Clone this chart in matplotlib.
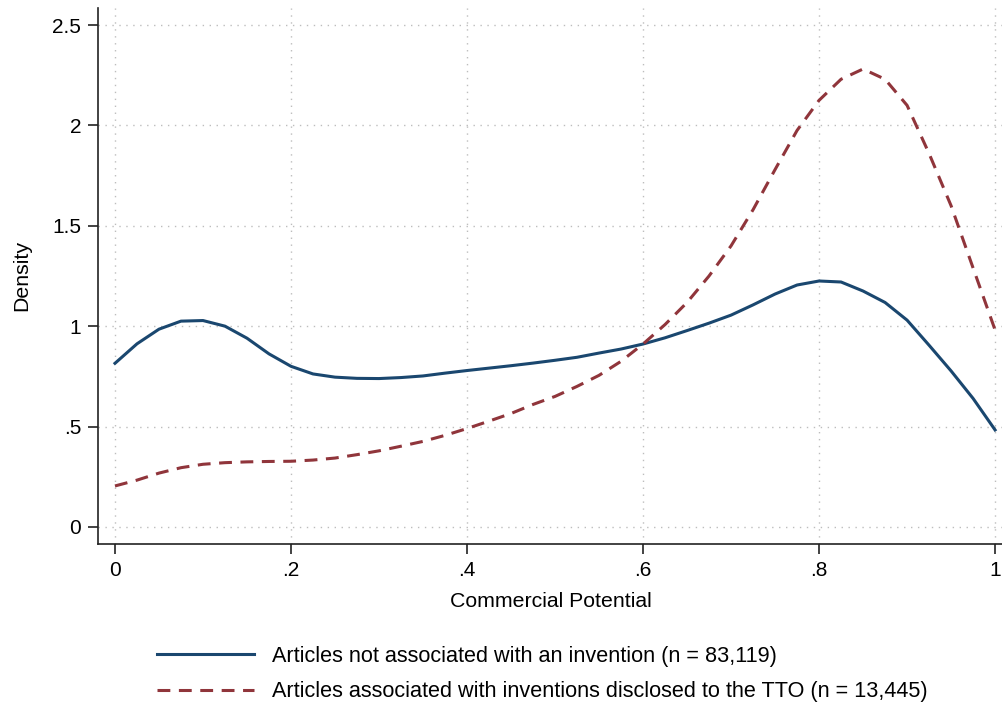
import matplotlib
matplotlib.use("Agg")
import matplotlib.pyplot as plt
import numpy as np

plt.rcParams['font.family'] = ['Liberation Sans', 'DejaVu Sans']

# Kernel density values
x_vals = [0, 0.025, 0.05, 0.075, 0.1, 0.125, 0.15, 0.175, 0.2, 0.225, 0.25, 0.275,
          0.3, 0.325, 0.35, 0.375, 0.4, 0.425, 0.45, 0.475, 0.5, 0.525, 0.55, 0.575,
          0.6, 0.625, 0.65, 0.675, 0.7, 0.725, 0.75, 0.775, 0.8, 0.825, 0.85, 0.875,
          0.9, 0.925, 0.95, 0.975, 1.0]

dens_no_invention = [0.815, 0.912, 0.985, 1.025, 1.028, 1.000, 0.940, 0.862, 0.800, 0.762,
                     0.746, 0.740, 0.739, 0.744, 0.752, 0.766, 0.779, 0.791, 0.803, 0.816,
                     0.830, 0.845, 0.866, 0.886, 0.911, 0.942, 0.978, 1.015, 1.055, 1.106,
                     1.160, 1.205, 1.225, 1.220, 1.175, 1.118, 1.030, 0.905, 0.777, 0.640,
                     0.483]

dens_tto = [0.204, 0.233, 0.268, 0.295, 0.312, 0.320, 0.324, 0.326, 0.327, 0.333,
            0.343, 0.360, 0.379, 0.402, 0.426, 0.456, 0.490, 0.527, 0.565, 0.610,
            0.650, 0.700, 0.755, 0.825, 0.911, 1.008, 1.118, 1.250, 1.400, 1.580,
            1.780, 1.975, 2.125, 2.230, 2.281, 2.230, 2.100, 1.860, 1.600, 1.290,
            0.981]

label_no = 'Articles not associated with an invention (n = 83,119)'
label_tto = 'Articles associated with inventions disclosed to the TTO (n = 13,445)'

x_ticks = [0, 0.2, 0.4, 0.6, 0.8, 1]
x_ticklabels = ['0', '.2', '.4', '.6', '.8', '1']
y_ticks = [0, 0.5, 1, 1.5, 2, 2.5]
y_ticklabels = ['0', '.5', '1', '1.5', '2', '2.5']

fig = plt.figure(figsize=(10.03, 7.06), dpi=100)
ax = fig.add_axes([0.0977, 0.2295, 0.9023, 0.7592])

ax.plot(x_vals, dens_no_invention, color='#1a476f', lw=2.2, label=label_no,
        solid_joinstyle='round')
ax.plot(x_vals, dens_tto, color='#90353b', lw=2.2, dashes=(4.2, 2.8), label=label_tto)

ax.set_xlim(-0.0193, 1.009)
ax.set_ylim(-0.085, 2.585)
ax.set_xticks(x_ticks)
ax.set_xticklabels(x_ticklabels)
ax.set_yticks(y_ticks)
ax.set_yticklabels(y_ticklabels)

for s in ['top', 'right']:
    ax.spines[s].set_visible(False)
for s in ['left', 'bottom']:
    ax.spines[s].set_linewidth(1.2)
    ax.spines[s].set_color('#222222')

ax.tick_params(axis='both', direction='out', length=7, width=1.2, labelsize=15,
               color='#222222', pad=5)
ax.grid(True, color='#bdbdbd', linestyle=(0, (1, 4)), linewidth=1.0)
ax.set_axisbelow(True)

ax.set_xlabel('Commercial Potential', fontsize=15.3, labelpad=9)
ax.set_ylabel('Density', fontsize=15.3, labelpad=15)

# legend sits under the plot, no frame
fig.legend(loc='upper left', bbox_to_anchor=(0.1565, 0.085), frameon=False,
           fontsize=15.6, handlelength=4.5, handletextpad=0.83, labelspacing=0.66,
           borderpad=0, borderaxespad=0)

fig.savefig('out.png', dpi=100)
